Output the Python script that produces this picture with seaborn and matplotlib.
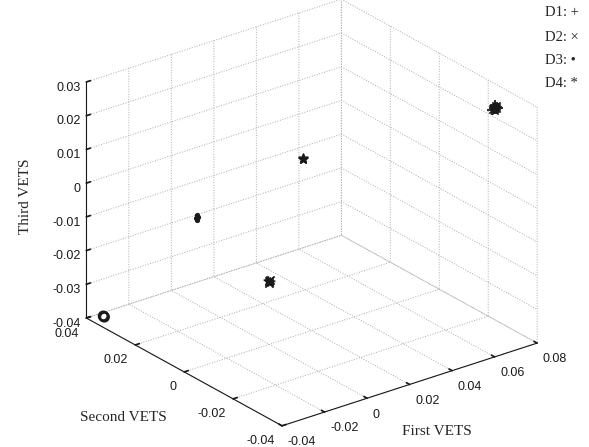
import numpy as np
import pandas as pd
import matplotlib
matplotlib.use("Agg")
import matplotlib.pyplot as plt
import seaborn as sns

# axis ticks
x_ticks = [-0.04, -0.02, 0, 0.02, 0.04, 0.06, 0.08]
y_ticks = [-0.04, -0.02, 0, 0.02, 0.04]
z_ticks = [-0.04, -0.03, -0.02, -0.01, 0, 0.01, 0.02, 0.03]

# D1 (+) points
d1_x = [0.0745, 0.0755, 0.0750, 0.0760, 0.0742, 0.0752]
d1_y = [-0.0271, -0.0266, -0.0278, -0.0273, -0.0264, -0.0270]
d1_z = [0.0258, 0.0251, 0.0262, 0.0255, 0.0248, 0.0265]

# D2 (x) points
d2_x = [0.0748, 0.0757, 0.0741, 0.0002, -0.0003, 0.0001]
d2_y = [-0.0276, -0.0268, -0.0272, 0.0001, -0.0003, -0.0001]
d2_z = [0.0263, 0.0253, 0.0256, -0.0213, -0.0217, -0.0210]

# D3 (.) points
d3_x = [-0.0002, 0.0003, 0.0006, -0.0005]
d3_y = [0.0297, 0.0293, 0.0300, 0.0291]
d3_z = [-0.0143, -0.0140, -0.0138, -0.0146]

# D4 (*) points
d4_x = [0.0751, 0.0746, 0.0200, 0.0204, 0.0197, 0.0001, -0.0002]
d4_y = [-0.0270, -0.0274, 0.0037, 0.0040, 0.0035, -0.0001, 0.0002]
d4_z = [0.0259, 0.0252, 0.0094, 0.0092, 0.0097, -0.0215, -0.0212]

# ring near the origin corner
r_x = [-0.0350, -0.0352]
r_y = [0.0370, 0.0372]
r_z = [-0.0395, -0.0393]

sns.set_theme(style="white")
plt.rcParams["font.family"] = ["Liberation Sans", "DejaVu Sans"]
plt.rcParams["axes.unicode_minus"] = False
plt.rcParams["grid.linestyle"] = ":"
plt.rcParams["grid.color"] = "#aaaaaa"
plt.rcParams["grid.linewidth"] = 0.7

fig = plt.figure(figsize=(5.89, 4.47), dpi=100)
ax = fig.add_axes([0.019, 0.011, 1.0, 1.0], projection="3d")
ax.set_proj_type("ortho")
ax.view_init(elev=25, azim=-127.5)
ax.set_box_aspect((1, 1, 0.81), zoom=1.138)

ax.scatter(d1_x, d1_y, d1_z, marker="+", c="k", s=45, linewidths=1.3, depthshade=False)
ax.scatter(d2_x, d2_y, d2_z, marker="x", c="k", s=35, linewidths=1.3, depthshade=False)
ax.scatter(d3_x, d3_y, d3_z, marker=".", c="k", s=30, depthshade=False)
ax.scatter(d4_x, d4_y, d4_z, marker="*", c="k", s=45, depthshade=False)
ax.scatter(r_x, r_y, r_z, marker="o", facecolors="none", edgecolors="k",
           s=40, linewidths=1.8, depthshade=False)

ax.set_xlim(-0.04, 0.08)
ax.set_ylim(-0.04, 0.04)
ax.set_zlim(-0.04, 0.03)
ax.set_xticks(x_ticks)
ax.set_yticks(y_ticks)
ax.set_zticks(z_ticks)
fmt = matplotlib.ticker.FuncFormatter(lambda v, p: "%g" % round(v, 3))
for axis in (ax.xaxis, ax.yaxis, ax.zaxis):
    axis.set_major_formatter(fmt)
    axis.set_pane_color((1, 1, 1, 0))
    axis.pane.set_edgecolor((1, 1, 1, 0))
    axis.line.set_color("k")
    axis.line.set_linewidth(0.8)
    axis._axinfo["tick"]["inward_factor"] = 0.0
    axis._axinfo["tick"]["outward_factor"] = 0.2
    axis.set_rotate_label(False)
ax.tick_params(labelsize=9, colors="k", pad=-3)
ax.zaxis.set_tick_params(pad=-6)
for t in ax.get_xticklabels():
    t.set_ha("left")
for t in ax.get_yticklabels():
    t.set_ha("right")
for t in ax.get_zticklabels():
    t.set_ha("right")

lab = dict(family="Liberation Serif", fontsize=11)
ax.set_xlabel("First VETS", labelpad=2, **lab)
ax.set_zlabel("Third VETS", rotation=90, labelpad=1.5, **lab)
# the y label sits further left than mplot3d would put it
fig.text(0.209, 0.067, "Second VETS", ha="center", va="center", **lab)

legend_text = ["D1: +", "D2: \u00d7", "D3: \u2022", "D4: *"]
legend_y = [0.971, 0.917, 0.864, 0.814]
for t, yy in zip(legend_text, legend_y):
    fig.text(0.925, yy, t, family="Liberation Serif", fontsize=10.5, va="center")

fig.savefig("out.png", dpi=100)
